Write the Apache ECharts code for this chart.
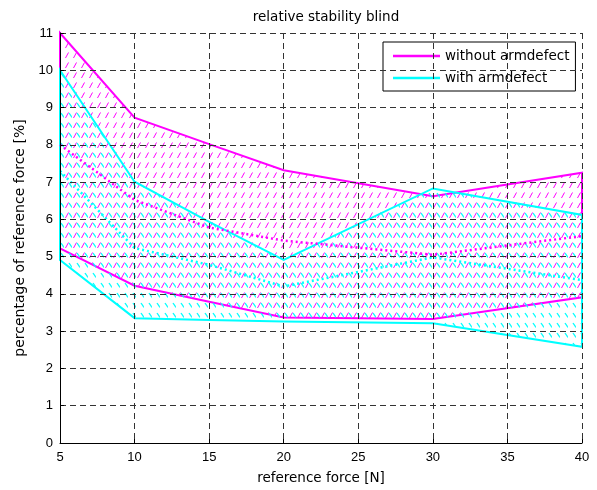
<!DOCTYPE html>
<html>
<head>
<meta charset="utf-8">
<script src="https://cdn.jsdelivr.net/npm/echarts@6/dist/echarts.min.js"></script>
<style>
html,body{margin:0;padding:0;background:#fff;}
#chart{width:597px;height:490px;}
</style>
</head>
<body>
<div id="chart"></div>
<script>
// ---- data ----
const forces = [5, 10, 15, 20, 30, 40];
const withoutUpper = [11.0, 8.73, 8.02, 7.32, 6.62, 7.25];
const withoutLower = [5.22, 4.22, 3.79, 3.37, 3.33, 3.91];
const withoutMean  = [8.0, 6.52, 5.78, 5.43, 5.05, 5.55];
const withUpper = [10.0, 7.01, 5.93, 4.91, 6.83, 6.12];
const withLower = [4.91, 3.35, 3.30, 3.26, 3.21, 2.58];
const withMean  = [7.3, 5.23, 4.78, 4.2, 4.98, 4.37];
const xTicks = [5, 10, 15, 20, 25, 30, 35, 40];
const yTicks = [0,1,2,3,4,5,6,7,8,9,10,11];

const MAG = '#ff00ff';
const CYA = '#00ffff';
const FONT = '"Liberation Sans", Arial, Helvetica, sans-serif';
const FONT2 = '"DejaVu Sans", sans-serif';

function makeHatch(color, forward) {
  const c = document.createElement('canvas');
  c.width = 8; c.height = 10;
  const ctx = c.getContext('2d');
  ctx.strokeStyle = color;
  ctx.lineWidth = forward ? 1 : 1.3;
  ctx.beginPath();
  if (forward) {
    ctx.moveTo(1.5, 8); ctx.lineTo(4.5, 2.5);
  } else {
    ctx.moveTo(5, 3); ctx.lineTo(8, 7.5);
  }
  ctx.stroke();
  return { image: c, repeat: 'repeat' };
}
const magHatch = makeHatch(MAG, true);
const cyaHatch = makeHatch(CYA, false);

function band(upper, lower, color, hatch) {
  return function (params, api) {
    const pts = [];
    for (let i = 0; i < forces.length; i++) pts.push(api.coord([forces[i], upper[i]]));
    for (let i = forces.length - 1; i >= 0; i--) pts.push(api.coord([forces[i], lower[i]]));
    return {
      type: 'polygon',
      shape: { points: pts },
      style: { fill: hatch, stroke: color, lineWidth: 2 }
    };
  };
}

const chart = echarts.init(document.getElementById('chart'), null, { renderer: 'canvas' });
chart.setOption({
  animation: false,
  backgroundColor: '#fff',
  title: {
    text: 'relative stability blind',
    left: 321, top: 5, textAlign: 'center',
    textStyle: { fontFamily: FONT2, fontSize: 13.5, fontWeight: 'normal', color: '#000' }
  },
  legend: {
    data: ['without armdefect', 'with armdefect'],
    orient: 'vertical',
    left: 383, top: 42,
    icon: 'rect', itemWidth: 47, itemHeight: 2.5, itemGap: 8,
    padding: [7, 6, 6, 10],
    backgroundColor: '#fff', borderColor: '#000', borderWidth: 1,
    textStyle: { fontFamily: FONT2, fontSize: 13.5, color: '#000' }
  },
  grid: { left: 60, right: 15, top: 33, bottom: 47 },
  xAxis: {
    type: 'value', min: xTicks[0], max: xTicks[xTicks.length - 1], interval: 5,
    name: 'reference force [N]', nameLocation: 'middle', nameGap: 28,
    nameTextStyle: { fontFamily: FONT2, fontSize: 13.5, color: '#000' },
    axisLine: { show: true, onZero: false, lineStyle: { color: '#000', width: 1 } },
    axisTick: { show: true, inside: true, length: 4, lineStyle: { color: '#000' } },
    axisLabel: { fontFamily: FONT, fontSize: 13, color: '#000', margin: 8 },
    splitLine: { show: true, lineStyle: { color: '#333', type: [6, 4], width: 1 } },
    z: 10
  },
  yAxis: {
    type: 'value', min: yTicks[0], max: yTicks[yTicks.length - 1], interval: 1,
    name: 'percentage of reference force [%]', nameLocation: 'middle', nameGap: 30,
    nameTextStyle: { fontFamily: FONT2, fontSize: 14, color: '#000' },
    axisLine: { show: true, onZero: false, lineStyle: { color: '#000', width: 1 } },
    axisTick: { show: true, inside: true, length: 4, lineStyle: { color: '#000' } },
    axisLabel: { fontFamily: FONT, fontSize: 13, color: '#000', margin: 7 },
    splitLine: { show: true, lineStyle: { color: '#333', type: [6, 4], width: 1 } },
    z: 10
  },
  series: [
    {
      name: 'without armdefect', type: 'custom',
      itemStyle: { color: MAG },
      renderItem: band(withoutUpper, withoutLower, MAG, magHatch),
      data: [[forces[0], withoutUpper[0]]], z: 2
    },
    {
      name: 'with armdefect', type: 'custom',
      itemStyle: { color: CYA },
      renderItem: band(withUpper, withLower, CYA, cyaHatch),
      data: [[forces[0], withUpper[0]]], z: 3
    },
    {
      name: 'without armdefect mean', type: 'line', symbol: 'none',
      data: forces.map((f, i) => [f, withoutMean[i]]),
      lineStyle: { color: MAG, width: 2.5, type: [2, 3] }, z: 4
    },
    {
      name: 'with armdefect mean', type: 'line', symbol: 'none',
      data: forces.map((f, i) => [f, withMean[i]]),
      lineStyle: { color: CYA, width: 2.5, type: [2, 3] }, z: 4
    }
  ]
});
</script>
</body>
</html>
